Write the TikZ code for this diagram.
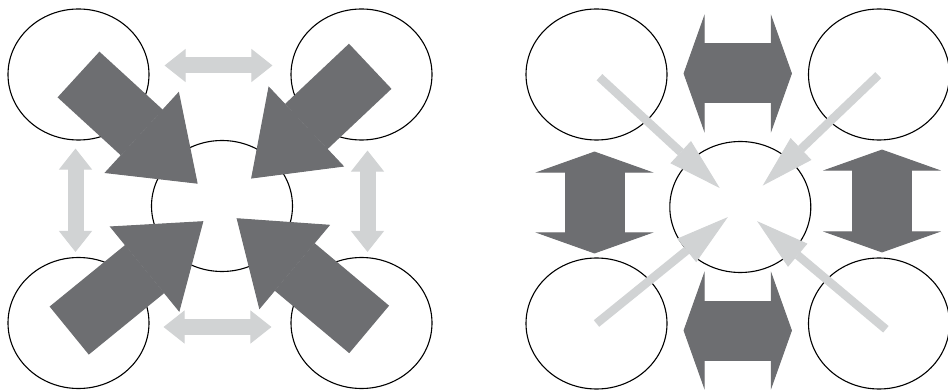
\documentclass[tikz,border=0pt]{standalone}
\usepackage{tikz}
\usetikzlibrary{positioning, arrows.meta, calc, shapes.geometric}

\definecolor{arrowdark}{RGB}{109,110,113}
\definecolor{arrowlight}{RGB}{209,211,212}

\begin{document}
\begin{tikzpicture}[x=1pt, y=-1pt,
	ring/.style={draw, ellipse, line width=1.1pt, minimum width=141pt, minimum height=131pt, inner sep=0pt},
	bigpush/.style={arrowdark, line width=62pt, -{Triangle[width=110pt, length=76pt, line width=1pt]}},
	pairlight/.style={arrowlight, line width=16pt, {Triangle[width=33pt, length=21pt, line width=1pt]}-{Triangle[width=33pt, length=21pt, line width=1pt]}},
	thinpull/.style={arrowlight, line width=8.5pt, -{Triangle[width=30pt, length=53pt, line width=1pt]}},
	pairdark/.style={arrowdark, line width=60pt, {Triangle[width=118pt, length=21pt, line width=1pt]}-{Triangle[width=118pt, length=21pt, line width=1pt]}}]
	\useasboundingbox (0,0) rectangle (948,390);
	\node[ring] (ltl) at (78.5,74.5) {};
	\node[ring] (ltr) at (361.5,74.5) {};
	\node[ring] (lbl) at (78.5,323) {};
	\node[ring] (lbr) at (361.5,323) {};
	\node[ring] (lc) at (222,206) {};
	\draw[bigpush, shorten <=0pt, shorten >=33pt] (ltl.center) -- (lc.center);
	\draw[bigpush, shorten <=-12pt, shorten >=40pt] (ltr.center) -- (lc.center);
	\draw[bigpush, shorten <=-12pt, shorten >=24pt] (lbl.center) -- (lc.center);
	\draw[bigpush, shorten <=-10pt, shorten >=19pt] (lbr.center) -- (lc.center);
	\draw[pairlight, shorten <=15pt, shorten >=18pt] ([yshift=9pt]ltl.east) -- ([yshift=9pt]ltr.west);
	\draw[pairlight, shorten <=14pt, shorten >=19pt] ([yshift=-4pt]lbl.east) -- ([yshift=-4pt]lbr.west);
	\draw[pairlight, shorten <=8pt, shorten >=5pt] ([xshift=-3pt]ltl.south) -- ([xshift=-3pt]lbl.north);
	\draw[pairlight, shorten <=10pt, shorten >=5pt] ([xshift=6pt]ltr.south) -- ([xshift=6pt]lbr.north);
	\node[ring] (rtl) at (596.5,74.5) {};
	\node[ring] (rtr) at (879,74.5) {};
	\node[ring] (rbl) at (596.5,323.5) {};
	\node[ring] (rbr) at (879,323.5) {};
	\node[ring] (rc) at (740.3,207) {};
	\draw[thinpull, shorten <=4pt, shorten >=28pt] (rtl.center) -- (rc.center);
	\draw[thinpull, shorten <=1pt, shorten >=31pt] (rtr.center) -- (rc.center);
	\draw[thinpull, shorten <=0pt, shorten >=16pt] (rbl.center) -- (rc.center);
	\draw[thinpull, shorten <=-9pt, shorten >=22pt] (rbr.center) -- (rc.center);
	\draw[pairdark, shorten <=16pt, shorten >=16pt] ([yshift=1pt]rtl.east) -- ([yshift=1pt]rtr.west);
	\draw[pairdark, shorten <=16pt, shorten >=16pt] ([yshift=-7pt]rbl.east) -- ([yshift=-7pt]rbr.west);
	\draw[pairdark, shorten <=11pt, shorten >=4pt] ([xshift=-2pt]rtl.south) -- ([xshift=-2pt]rbl.north);
	\draw[pairdark, shorten <=9pt, shorten >=5pt] ([xshift=3pt]rtr.south) -- ([xshift=3pt]rbr.north);
\end{tikzpicture}
\end{document}
